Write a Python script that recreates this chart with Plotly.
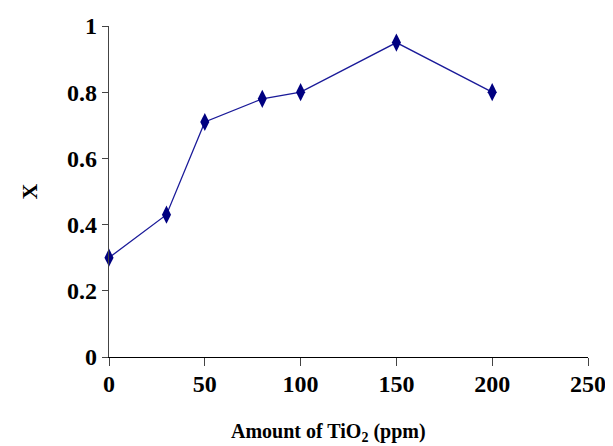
import plotly.graph_objects as go

tio2_ppm = [0, 30, 50, 80, 100, 150, 200]
x_values = [0.30, 0.43, 0.71, 0.78, 0.80, 0.95, 0.80]
x_ticks = [0, 50, 100, 150, 200, 250]
y_ticks = [0, 0.2, 0.4, 0.6, 0.8, 1]

fig = go.Figure()
fig.add_trace(go.Scatter(
    x=tio2_ppm, y=x_values, mode="lines+markers",
    line=dict(color="#1a1a99", width=1.3),
    marker=dict(symbol="diamond-tall", size=13, color="#000080"),
    showlegend=False, cliponaxis=False,
))

fam = "Liberation Serif, Times New Roman, serif"
tick_font = dict(family=fam, size=24, color="black", weight="bold")
title_font = dict(family=fam, size=20, color="black", weight="bold")

# page body adds an 8px offset; margins compensate for it
fig.update_layout(
    width=613, height=446,
    margin=dict(l=101, r=33, t=18, b=97),
    plot_bgcolor="white", paper_bgcolor="white",
    font=title_font,
    xaxis=dict(
        range=[0, 250], tickvals=x_ticks, showgrid=False, zeroline=False,
        showline=True, linecolor="black", linewidth=1.3,
        ticks="outside", ticklen=8, tickcolor="#444", tickwidth=1,
        tickfont=tick_font, automargin=False, ticklabelstandoff=-3,
    ),
    yaxis=dict(
        range=[0, 1], tickvals=y_ticks, showgrid=False, zeroline=False,
        showline=True, linecolor="#444", linewidth=1.3,
        ticks="outside", ticklen=6, tickcolor="#444", tickwidth=1,
        tickfont=tick_font, automargin=False,
    ),
    annotations=[
        dict(text="Amount of TiO<sub>2</sub> (ppm)", xref="paper", yref="paper",
             x=0.459, y=0, yshift=-75, xanchor="center", yanchor="middle",
             showarrow=False, font=title_font),
        dict(text="X", xref="paper", yref="paper", x=0, y=0.5, xshift=-80,
             xanchor="center", yanchor="middle", textangle=-90,
             showarrow=False, font=dict(family=fam, size=22, color="black", weight="bold")),
    ],
)

fig.write_html("out.html")
